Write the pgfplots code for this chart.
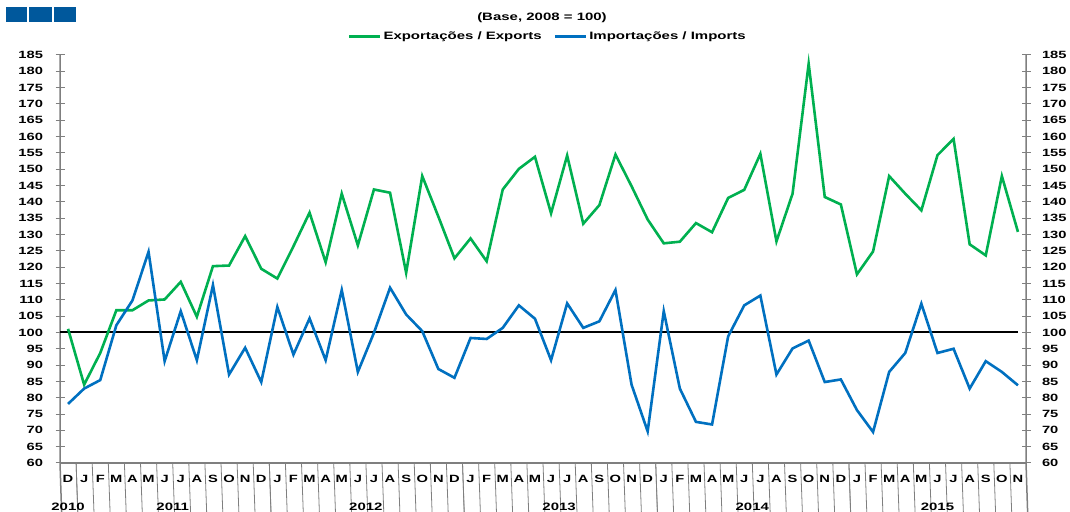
\documentclass[border=0pt]{standalone}
\usepackage{pgfplots}
\pgfplotsset{compat=1.18}
\usepackage{pgfplotstable}
\usepackage{fontspec}
\setmainfont{Liberation Sans}[FakeStretch=1.4]
\definecolor{expg}{HTML}{00B050}
\definecolor{impb}{HTML}{0070C0}
\definecolor{sq}{HTML}{00589C}
\definecolor{axg}{HTML}{7F7F7F}
\newcommand{\lblfont}{\bfseries\fontsize{10.5bp}{12bp}\selectfont}
\newcommand{\ttlfont}{\bfseries\fontsize{10.7bp}{12bp}\selectfont}

\pgfplotstableread{
i exp imp
0 101.1 78.1
1 84.0 82.8
2 93.7 85.4
3 106.8 102.2
4 106.8 109.8
5 109.8 124.7
6 110.1 91.2
7 115.5 106.5
8 104.8 91.5
9 120.3 114.5
10 120.5 87.1
11 129.5 95.3
12 119.5 84.8
13 116.5 107.8
14 126.4 93.2
15 136.7 104.3
16 121.5 91.5
17 142.5 113.0
18 126.7 87.9
19 143.8 99.9
20 142.8 113.7
21 118.3 105.5
22 147.9 100.4
23 135.5 88.8
24 122.7 86.1
25 128.8 98.3
26 121.8 98.0
27 143.8 101.4
28 150.1 108.3
29 153.8 104.2
30 136.5 91.5
31 154.2 108.9
32 133.3 101.4
33 139.0 103.4
34 154.5 113.0
35 144.8 84.0
36 134.6 69.7
37 127.3 106.5
38 127.8 82.8
39 133.5 72.6
40 130.7 71.8
41 141.2 98.8
42 143.7 108.3
43 154.7 111.3
44 127.9 87.1
45 142.5 95.1
46 182.3 97.5
47 141.5 84.8
48 139.2 85.6
49 117.8 76.2
50 124.8 69.5
51 147.9 87.9
52 142.5 93.7
53 137.4 108.8
54 154.3 93.7
55 159.3 95.0
56 127.0 82.8
57 123.6 91.2
58 147.9 87.9
59 130.8 83.8
}\datatab

\begin{document}
\begin{tikzpicture}[x=1bp,y=1bp]
\path[use as bounding box] (0,0) rectangle (1070,512);
\fill[sq] (6,504.7) rectangle (27.3,489.7);
\fill[sq] (29.3,504.7) rectangle (51.7,489.7);
\fill[sq] (54,504.7) rectangle (76,489.7);
\node[font=\ttlfont, anchor=base, inner sep=0] at (542,491.3) {(Base, 2008 = 100)};

\begin{axis}[
  at={(60bp,49bp)}, anchor=south west,
  scale only axis, width=966bp, height=408bp,
  xmin=-0.5, xmax=59.5, ymin=60, ymax=185,
  clip=false,
  axis line style={draw=none},
  xtick={0,...,59},
  xticklabels={D,J,F,M,A,M,J,J,A,S,O,N,D,J,F,M,A,M,J,J,A,S,O,N,D,J,F,M,A,M,J,J,A,S,O,N,D,J,F,M,A,M,J,J,A,S,O,N,D,J,F,M,A,M,J,J,A,S,O,N},
  major x tick style={draw=none},
  xticklabel style={font=\lblfont, anchor=base, yshift=-20bp, inner sep=0pt},
  ytick={60,65,...,185},
  ytick pos=both, yticklabel pos=left,
  ytick align=center, major tick length=9bp,
  y tick style={draw=axg, line width=1bp},
  yticklabel style={font=\lblfont, xshift=-9bp},
  /pgf/number format/assume math mode=true,
  legend columns=2,
  legend style={at={(0.505,1.045)}, anchor=center, draw=none, fill=none,
    font=\ttlfont, inner sep=0pt,
    /tikz/every even column/.append style={column sep=10bp}},
  legend image code/.code={\draw[#1] (0bp,0bp) -- (31bp,0bp);},
]
\draw[axg, line width=1.5bp] (rel axis cs:0,1) -- (rel axis cs:0,0) -- ++(0,-49bp);
\draw[axg, line width=1.5bp] (rel axis cs:1,1) -- (rel axis cs:1,0) -- ++(0,-49bp);
\draw[axg, line width=1.5bp] (rel axis cs:0,0) -- (rel axis cs:1,0);
\pgfplotsinvokeforeach{0,...,58}{\draw[axg, line width=0.8bp] (axis cs:#1+0.5,60) -- ++(0,-29bp);}
\pgfplotsinvokeforeach{0,12,24,36,48}{\draw[axg, line width=0.8bp] (axis cs:#1+0.5,60) -- ++(0,-49bp);}
\node[font=\ttlfont, anchor=base, yshift=-48bp] at (axis cs:0,60) {2010};
\node[font=\ttlfont, anchor=base, yshift=-48bp] at (axis cs:6.5,60) {2011};
\node[font=\ttlfont, anchor=base, yshift=-48bp] at (axis cs:18.5,60) {2012};
\node[font=\ttlfont, anchor=base, yshift=-48bp] at (axis cs:30.5,60) {2013};
\node[font=\ttlfont, anchor=base, yshift=-48bp] at (axis cs:42.5,60) {2014};
\node[font=\ttlfont, anchor=base, yshift=-48bp] at (axis cs:54,60) {2015};
\addplot[black, line width=2bp, forget plot] coordinates {(-0.5,100) (59,100)};
\addplot[expg, line width=2.6bp] table[x=i,y=exp]{\datatab};
\addlegendentry{Exportações / Exports}
\addplot[impb, line width=2.6bp] table[x=i,y=imp]{\datatab};
\addlegendentry{Importações / Imports}
\end{axis}

\begin{axis}[
  at={(60bp,49bp)}, anchor=south west,
  scale only axis, width=966bp, height=408bp,
  xmin=-0.5, xmax=59.5, ymin=60, ymax=185,
  axis line style={draw=none},
  xtick=\empty,
  ytick={60,65,...,185},
  y tick style={draw=none},
  ytick pos=right, yticklabel pos=right,
  yticklabel style={font=\lblfont, xshift=12.5bp},
  /pgf/number format/assume math mode=true,
]
\addplot[draw=none] coordinates {(0,100)};
\end{axis}
\end{tikzpicture}
\end{document}
